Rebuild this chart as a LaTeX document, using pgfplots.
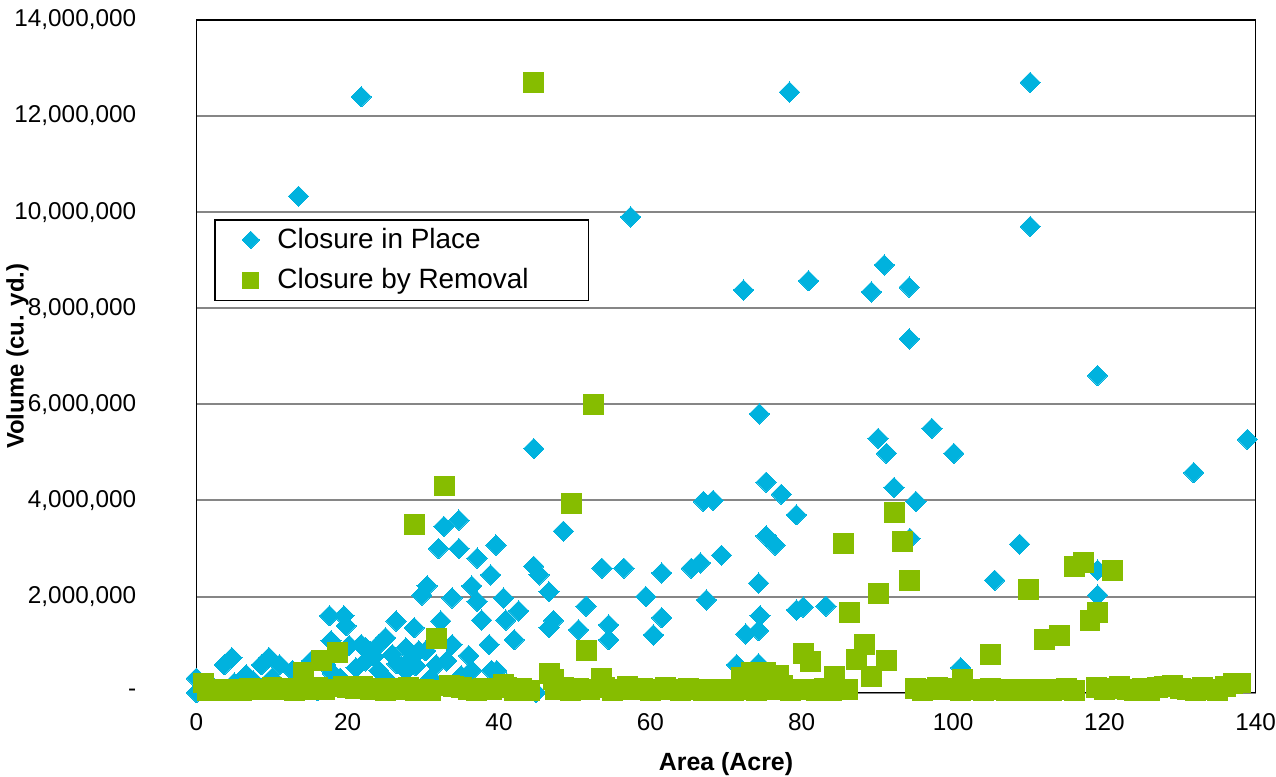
\documentclass[border=0pt]{standalone}
\usepackage{pgfplots}
\pgfplotsset{compat=1.18}
\usepackage{fontspec}
\setmainfont{Liberation Sans}
\definecolor{cBlue}{RGB}{0,178,222}
\definecolor{cGreen}{RGB}{134,189,0}
\definecolor{cGrid}{RGB}{134,134,134}
\begin{document}
\fontsize{12.5}{15}\selectfont
\begin{tikzpicture}
\begin{axis}[
  scale only axis,
  width=531.5pt, height=337.5pt,
  xmin=0, xmax=140, ymin=0, ymax=14,
  xtick={0,20,40,60,80,100,120,140},
  xticklabels={0,20,40,60,80,100,120,140},
  ytick={0,2,4,6,8,10,12,14},
  yticklabels={-\hspace{-7.5pt},{2,000,000},{4,000,000},{6,000,000},{8,000,000},{10,000,000},{12,000,000},{14,000,000}},
  major tick length=0pt,
  tick label style={font=\fontsize{12.2}{15}\selectfont},
  yticklabel style={inner xsep=0pt, xshift=-30pt},
  xticklabel style={inner sep=0pt, yshift=-10.5pt},
  ymajorgrids,
  grid style={draw=cGrid, line width=1pt},
  axis line style={draw=black, line width=0.6pt},
  xlabel={Area (Acre)},
  ylabel={Volume (cu. yd.)},
  every axis x label/.style={at={(rel axis cs:0.5,0)}, anchor=center, inner sep=0pt, yshift=-36pt, font=\fontsize{12.5}{15}\selectfont\bfseries},
  every axis y label/.style={at={(rel axis cs:0,0.5)}, anchor=center, inner sep=0pt, xshift=-89.75pt, rotate=90, font=\fontsize{12}{14}\selectfont\bfseries},
  legend style={at={(rel axis cs:0.017,0.704)}, anchor=north west, draw=black, line width=0.8pt, inner xsep=13.5pt, inner ysep=2pt, row sep=4.5pt, column sep=7pt, font=\fontsize{14}{16}\selectfont},
  legend cell align=left,
  clip=false,
]
\path (rel axis cs:1,1) -- ++(0,10pt);
\path (rel axis cs:0,0.5) -- ++(-98.5pt,0);
% Closure in Place (volume in millions of cu. yd.)
\addplot[color=cBlue, only marks, mark=square*, mark size=3.6pt, mark options={rotate=45, solid, fill=cBlue, draw=cBlue, line width=0pt}, legend image post style={mark size=3.1pt}] coordinates {
(0,0.3) (0,0.0) (2,0.15) (3.7,0.58) (4.7,0.73) (5,0.2) (6.6,0.37) (7.5,0.25) (8.6,0.58) (9.6,0.73)
(10,0.3) (11,0.58) (12.7,0.46) (13.5,10.33) (14,0.25) (15.2,0.66) (16,0.04) (17.1,0.58) (17.6,1.6) (17.8,1.08)
(18,0.4) (19,0.3) (19.5,1.6) (19.8,1.39)
(21.8,12.4) (20.2,0.98) (21.8,1.0) (22.4,0.93) (24.1,1.0) (25,1.14) (25.9,0.79) (26.4,1.49) (27.7,0.93) (28.5,0.73)
(28.8,1.35) (29.4,0.87) (21.1,0.52) (22.4,0.66) (24.1,0.46) (27.7,0.46) (29,0.56) (30.3,0.87) (23,0.85) (26.5,0.6)
(25,0.3) (23.5,0.75)
(30.5,2.22) (29.8,2.03) (31.7,0.58) (32.3,1.49) (32,3.0) (32.7,3.46) (34.7,3.59) (34.7,3.0) (33.8,1.97) (33.8,1.0)
(33.1,0.66) (36,0.77) (36.4,0.46) (37.1,2.8) (36.4,2.22) (37.1,1.9) (37.7,1.51) (38.7,1.0) (38.9,2.45) (39.6,3.07)
(39,0.46) (39.7,0.46) (40.6,1.97) (40.9,1.51) (42,1.1) (42.6,1.7) (44.9,0.0) (31,0.3) (35,0.35) (41,0.2)
(44.6,5.08) (44.6,2.63) (45.3,2.45) (46.6,2.1) (47.2,1.5) (46.6,1.35) (48.5,3.36) (50.5,1.31) (51.5,1.8) (54.5,1.41)
(54.5,1.1) (53.6,2.59) (56.5,2.59) (57.4,9.9) (59.4,2.0) (60.4,1.2) (61.5,2.49) (61.5,1.56)
(65.4,2.59) (66.6,2.7) (67,3.98) (68.3,4.0) (69.4,2.86) (67.4,1.93) (71.4,0.58) (72.3,8.38) (72.6,1.22) (74.3,1.29)
(74.5,1.6) (74.3,2.28) (74.4,5.8) (74.3,0.6) (75.3,3.26) (76.5,3.07) (75.3,4.38) (77.3,4.13) (78.4,12.5) (79.3,3.7)
(79.3,1.72) (80.2,1.78) (80.9,8.57) (83.2,1.8)
(89.2,8.34) (90.9,8.9) (90.1,5.29) (91.2,4.98) (92.2,4.27) (94.2,8.44) (94.2,7.36) (94.3,3.21) (95.1,3.98) (97.2,5.5)
(100.1,4.98) (101,0.52) (105.5,2.34) (108.8,3.09) (110.2,12.7) (110.2,9.7) (119.1,6.6) (119.1,2.55) (119.1,2.03) (131.8,4.58)
(138.9,5.27)
};
\addlegendentry{Closure in Place}
% Closure by Removal
\addplot[color=cGreen, only marks, mark=square*, mark size=5pt, mark options={solid, fill=cGreen, draw=cGreen, line width=0pt}, legend image post style={mark size=4pt}] coordinates {
(0.9,0.2) (14.2,0.41) (16.6,0.66) (18.6,0.83) (28.8,3.5) (31.7,1.12) (32.8,4.3) (44.6,12.7) (46.7,0.39) (49.6,3.94)
(51.6,0.87) (52.5,6.0) (53.6,0.29) (72,0.31) (73.4,0.41) (75.2,0.41) (76.9,0.35) (80.2,0.81) (81.2,0.64) (84.3,0.33)
(85.5,3.11) (86.3,1.66) (87.2,0.68) (88.3,1.0) (89.2,0.33) (90.2,2.07) (91.2,0.66) (92.3,3.75) (93.3,3.15) (94.2,2.34)
(101.3,0.27) (105,0.79) (110,2.14) (112.1,1.1) (114.1,1.18) (116.1,2.63) (117.2,2.7) (118.1,1.51) (119.1,1.66) (121.1,2.55)
(137,0.19) (40.6,0.17) (47.2,0.27) (33.5,0.15) (19.5,0.12)
(1.5,0.05) (2.5,0.06) (3.5,0.04) (5,0.07) (6,0.05) (7,0.08) (8,0.06) (9,0.07) (10,0.1) (11,0.06)
(12,0.08) (13,0.05) (15,0.07) (16,0.1) (17,0.06) (20,0.1) (21,0.08) (22,0.12) (23,0.06) (24,0.09)
(25,0.05) (26,0.08) (27,0.06) (28,0.1) (29,0.05) (30,0.07) (31,0.04) (34,0.12) (35,0.1) (36,0.07)
(37,0.05) (38,0.08) (39,0.06) (41,0.1) (42,0.05) (43,0.08) (44,0.04) (47.5,0.06) (48.5,0.1) (49.5,0.05)
(50.5,0.08) (52,0.06) (54,0.1) (55,0.05) (56,0.07) (57,0.12) (58,0.06) (59,0.08) (60,0.05) (61,0.07)
(62,0.1) (63,0.06) (64,0.05) (65,0.08) (66,0.06) (67,0.05) (68,0.07) (69,0.05) (70,0.06) (71,0.04)
(72.5,0.06) (74,0.05) (76,0.07) (77.5,0.15) (78.5,0.05) (79.5,0.07) (81,0.06) (82,0.04) (83,0.08) (84,0.05)
(86,0.06) (95,0.08) (96,0.05) (97,0.07) (98,0.1) (99,0.06) (100,0.08) (101,0.05) (102,0.07) (103,0.06)
(104,0.05) (105,0.08) (106,0.06) (107,0.05) (108,0.07) (109,0.05) (110,0.06) (111,0.04) (112,0.07) (113,0.05)
(114,0.06) (115,0.08) (116,0.05) (119,0.1) (120,0.06) (121,0.08) (122,0.12) (123,0.07) (124,0.05) (125,0.08)
(126,0.04) (127,0.1) (128,0.12) (129,0.15) (130,0.08) (131,0.06) (132,0.05) (133,0.1) (134,0.06) (135,0.05)
(136,0.12) (138,0.2)
};
\addlegendentry{Closure by Removal\hspace{14.5pt}\mbox{}}
\end{axis}
\end{tikzpicture}
\end{document}
